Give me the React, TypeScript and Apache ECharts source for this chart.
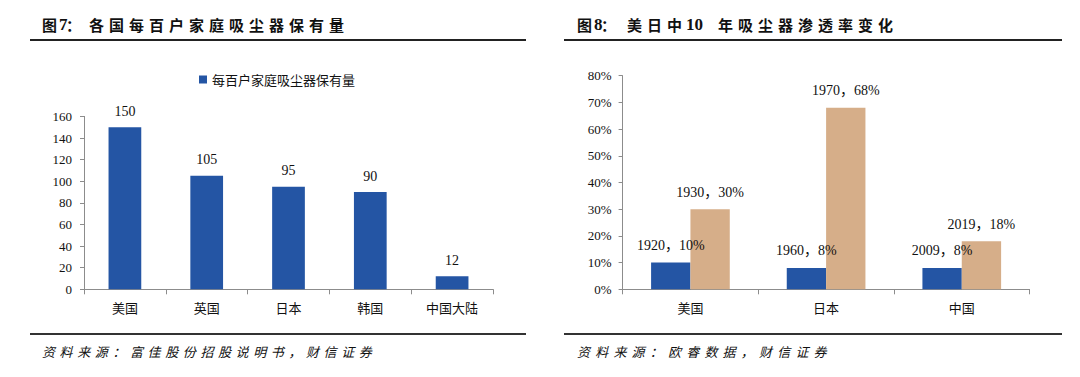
import React, { useEffect, useRef } from "react";
import * as echarts from "echarts";

// Left chart data
const leftCategories = ["美国", "英国", "日本", "韩国", "中国大陆"];
const leftSeriesName = "每百户家庭吸尘器保有量";
const leftValues = [150, 105, 95, 90, 12];

// Right chart data
const rightCategories = ["美国", "日本", "中国"];
const earlyYears = [1920, 1960, 2009];
const earlyValues = [10, 8, 8];
const lateYears = [1930, 1970, 2019];
const lateValues = [30, 68, 18];

const BLUE = "#2455A4";
const TAN = "#D6AE89";
const SERIF = "'Liberation Serif', 'Noto Sans CJK SC', serif";
const CJK = "'Noto Sans CJK SC', sans-serif";

function charRow(str: string, x0: number, pitch: number, y: number, style: any) {
  return Array.from(str).map((ch, i) => ({
    type: "text",
    x: x0 + i * pitch,
    y,
    style: { text: ch, verticalAlign: "middle", align: "left", ...style },
  }));
}

export default function App() {
  const ref = useRef<HTMLDivElement>(null);
  useEffect(() => {
    if (!ref.current) return;
    const chart = echarts.init(ref.current, null, { renderer: "svg" });
    const titleStyle = { font: `bold 15px ${CJK}`, fill: "#111" };
    const titleNum = { font: `bold 17px 'Liberation Serif', serif`, fill: "#111" };
    const srcStyle = { font: `italic 13px ${CJK}`, fill: "#111" };
    const axisLineStyle = { color: "#8c8c8c", width: 1 };
    const graphic: any[] = [
      // Left title
      ...charRow("图", 42, 20, 24, titleStyle),
      ...charRow("7", 59, 10, 24, titleNum),
      ...charRow("：", 66, 20, 24, titleStyle),
      ...charRow("各国每百户家庭吸尘器保有量", 89, 20, 24, titleStyle),
      // Right title
      ...charRow("图", 577, 20, 24, titleStyle),
      ...charRow("8", 594, 10, 24, titleNum),
      ...charRow("：", 601, 20, 24, titleStyle),
      ...charRow("美日中", 627, 20, 24, titleStyle),
      { type: "text", x: 686, y: 24, style: { text: "10", verticalAlign: "middle", ...titleNum } },
      ...charRow("年吸尘器渗透率变化", 718, 20, 24, titleStyle),
      // Title rules
      { type: "line", shape: { x1: 30, y1: 40, x2: 526, y2: 40 }, style: { stroke: "#222", lineWidth: 2 } },
      { type: "line", shape: { x1: 564, y1: 40, x2: 1062, y2: 40 }, style: { stroke: "#222", lineWidth: 2 } },
      // Bottom rules
      { type: "line", shape: { x1: 30, y1: 334, x2: 526, y2: 334 }, style: { stroke: "#333", lineWidth: 2 } },
      { type: "line", shape: { x1: 564, y1: 334, x2: 1062, y2: 334 }, style: { stroke: "#333", lineWidth: 2 } },
      // Sources
      ...charRow("资料来源：富佳股份招股说明书，财信证券", 42, 17.6, 351, srcStyle),
      ...charRow("资料来源：欧睿数据，财信证券", 577, 18.2, 351, srcStyle),
    ];

    chart.setOption({
      animation: false,
      backgroundColor: "#fff",
      graphic,
      legend: {
        data: [leftSeriesName],
        left: 194,
        top: 68,
        itemWidth: 8,
        itemHeight: 8,
        icon: "rect",
        textStyle: { fontFamily: CJK, fontSize: 13, color: "#111" },
      },
      grid: [
        { left: 84, top: 116.4, width: 409, height: 172.9 },
        { left: 622.6, top: 75.7, width: 407, height: 213.6 },
      ],
      xAxis: [
        {
          type: "category",
          gridIndex: 0,
          data: leftCategories,
          axisLine: { lineStyle: axisLineStyle },
          axisTick: { show: true, length: 5, lineStyle: axisLineStyle },
          axisLabel: { color: "#111", fontFamily: CJK, fontSize: 13, margin: 12 },
        },
        {
          type: "category",
          gridIndex: 1,
          data: rightCategories,
          axisLine: { lineStyle: axisLineStyle },
          axisTick: { show: true, length: 5, lineStyle: axisLineStyle },
          axisLabel: { color: "#111", fontFamily: CJK, fontSize: 13, margin: 12 },
        },
      ],
      yAxis: [
        {
          type: "value",
          gridIndex: 0,
          min: 0,
          max: 160,
          interval: 20,
          splitLine: { show: false },
          axisLine: { show: true, lineStyle: axisLineStyle },
          axisTick: { show: true, length: 4, lineStyle: axisLineStyle },
          axisLabel: { color: "#111", fontFamily: SERIF, fontSize: 13, margin: 12 },
        },
        {
          type: "value",
          gridIndex: 1,
          min: 0,
          max: 80,
          interval: 10,
          splitLine: { show: false },
          axisLine: { show: true, lineStyle: axisLineStyle },
          axisTick: { show: true, length: 4, lineStyle: axisLineStyle },
          axisLabel: { color: "#111", fontFamily: SERIF, fontSize: 13, margin: 11, formatter: "{value}%" },
        },
      ],
      series: [
        {
          name: leftSeriesName,
          type: "bar",
          xAxisIndex: 0,
          yAxisIndex: 0,
          data: leftValues,
          barCategoryGap: "60%",
          itemStyle: { color: BLUE },
          label: { show: true, position: "top", distance: 9, color: "#111", fontFamily: SERIF, fontSize: 14 },
        },
        {
          name: "早期",
          type: "bar",
          xAxisIndex: 1,
          yAxisIndex: 1,
          data: earlyValues,
          barGap: "0%",
          barCategoryGap: "42%",
          itemStyle: { color: BLUE },
          label: {
            show: true,
            position: "top",
            distance: 10,
            color: "#111",
            fontFamily: SERIF,
            fontSize: 14,
            formatter: (p: any) => `${earlyYears[p.dataIndex]}，${p.value}%`,
          },
        },
        {
          name: "后期",
          type: "bar",
          xAxisIndex: 1,
          yAxisIndex: 1,
          data: lateValues,
          barGap: "0%",
          barCategoryGap: "42%",
          itemStyle: { color: TAN },
          label: {
            show: true,
            position: "top",
            distance: 10,
            color: "#111",
            fontFamily: SERIF,
            fontSize: 14,
            formatter: (p: any) => `${lateYears[p.dataIndex]}，${p.value}%`,
          },
        },
      ],
    });
    return () => chart.dispose();
  }, []);
  return (
    <div
      ref={ref}
      style={{ position: "fixed", left: 0, top: 0, width: 1080, height: 377, background: "#fff" }}
    />
  );
}
